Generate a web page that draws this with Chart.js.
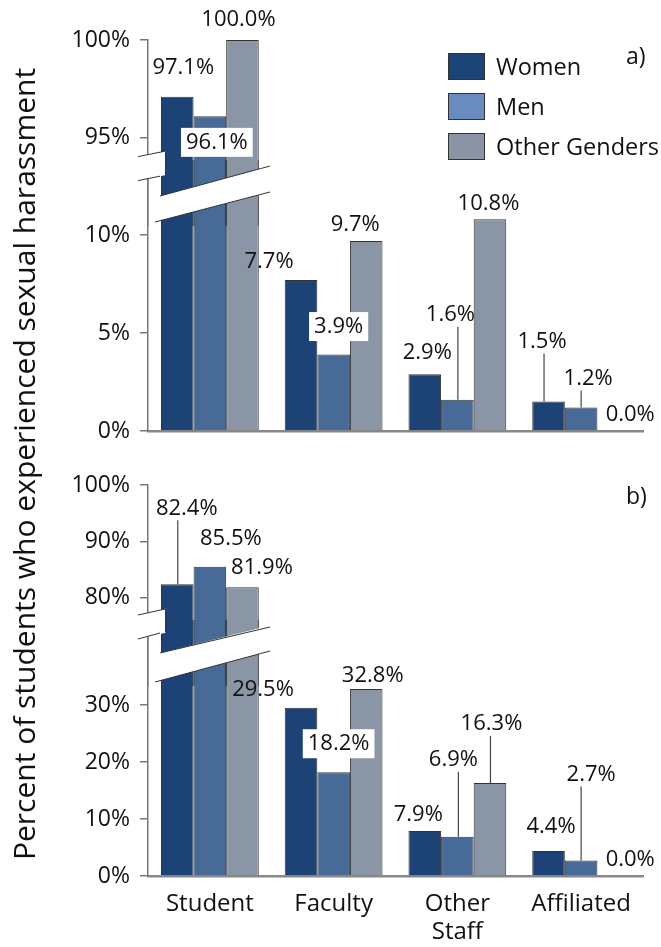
<!DOCTYPE html>
<html lang="en">
<head>
<meta charset="UTF-8">
<title>Sexual harassment by source</title>
<script src="https://cdn.jsdelivr.net/npm/chart.js"></script>
<style>
    body {
        margin: 0;
        background: #fff;
        font-family: 'Open Sans', sans-serif;
        color: #111;
    }
    .page {
        position: relative;
        width: 661px;
        height: 947px;
        overflow: hidden;
    }
    .page canvas {
        position: absolute;
        left: 0;
        top: 0;
    }
    .ytitle {
        position: absolute;
        left: -426px;
        top: 446px;
        width: 900px;
        height: 36px;
        line-height: 36px;
        text-align: center;
        font-size: 30px;
        white-space: nowrap;
        transform: rotate(-90deg);
    }
    .tag {
        position: absolute;
        font-size: 23px;
        line-height: 30px;
    }
    .legend {
        position: absolute;
        left: 448px;
        top: 46px;
        font-size: 23.5px;
    }
    .legend div {
        display: flex;
        align-items: center;
        height: 40px;
    }
    .legend .sw {
        width: 35px;
        height: 25px;
        border: 1px solid #333;
        margin-right: 11px;
    }
</style>
</head>
<body>
<div class="page">
    <canvas id="aUp" width="661" height="947"></canvas>
    <canvas id="aLow" width="661" height="947"></canvas>
    <canvas id="bUp" width="661" height="947"></canvas>
    <canvas id="bLow" width="661" height="947"></canvas>
    <div class="ytitle">Percent of students who experienced sexual harassment</div>
    <div class="tag" style="left:626px; top:40px;">a)</div>
    <div class="tag" style="left:626px; top:480px;">b)</div>
    <div class="legend" id="legend"></div>
</div>

<script>
    // data
    const categories = ['Student', 'Faculty', ['Other', 'Staff'], 'Affiliated'];
    const genders = ['Women', 'Men', 'Other Genders'];

    const womenA = [97.1, 7.7, 2.9, 1.5];
    const menA = [96.1, 3.9, 1.6, 1.2];
    const otherA = [100.0, 9.7, 10.8, 0.0];

    const womenB = [82.4, 29.5, 7.9, 4.4];
    const menB = [85.5, 18.2, 6.9, 2.7];
    const otherB = [81.9, 32.8, 16.3, 0.0];

    const upperTicksA = [95, 100];
    const lowerTicksA = [0, 5, 10];
    const upperTicksB = [80, 90, 100];
    const lowerTicksB = [0, 10, 20, 30];

    const barColors = ['#1c4276', '#486a96', '#8a95a5'];
    const legendColors = ['#1c4476', '#6a8bbd', '#8a94a4'];

    // label placement relative to bar top centre: [dx, dy, kind, lineDx]
    const spotsA = [
        [[6, -29], [-32, -18], [2.5, -21], [-6.5, -60, 'line', -4.5]],
        [[7, 26, 'box'], [5, -28, 'box'], [-7, -85, 'line', 0.5], [7, -29, 'line', 0]],
        [[-4, -20], [-11, -16], [-1.5, -16], [16.5, -16]]
    ];
    const spotsB = [
        [[9.5, -76, 'line', 0.5], [-38, -18], [-6.5, -16], [2.5, -24]],
        [[21, -28], [5, -28.5, 'box'], [-4, -77, 'line', 1], [10, -86, 'line', 0]],
        [[19.5, -19], [6.5, -13], [1.5, -59, 'line', 0.5], [16.5, -16]]
    ];

    // break geometry (axis notch and band across the student bars)
    const breakA = {
        notch: [[136, 157], [166, 151], [166, 175], [136, 181]],
        slashes: [[138, 156.6, 165, 151.2], [138, 180.6, 160, 176.2], [165.5, 151.2, 165.5, 175.2]],
        band: [[152, 198.2], [275, 164.6], [275, 190.7], [152, 222.8]],
        edges: [[160, 196, 270, 166], [155, 222, 270, 192]]
    };
    const breakB = {
        notch: [[136, 615.4], [166, 608.8], [166, 632.8], [136, 639.4]],
        slashes: [[138, 615, 165, 609], [138, 639, 160, 633], [165.5, 609, 165.5, 632.6]],
        band: [[152, 654.9], [275, 624.2], [275, 649.7], [152, 682.8]],
        edges: [[160, 653, 270, 627], [155, 682, 270, 651]]
    };

    const fontFamily = "'Open Sans', sans-serif";

    const valueLabels = {
        id: 'valueLabels',
        afterDatasetsDraw(chart, args, opts) {
            const ctx = chart.ctx;
            const y = chart.scales.y;
            ctx.save();
            ctx.font = '22px ' + fontFamily;
            ctx.textAlign = 'center';
            ctx.textBaseline = 'middle';
            chart.data.datasets.forEach((ds, di) => {
                chart.getDatasetMeta(di).data.forEach((bar, i) => {
                    const v = ds.data[i];
                    if (v < y.min || v > y.max) return;
                    const spot = opts.spots[di][i];
                    const tx = bar.x + spot[0];
                    const ty = bar.y + spot[1];
                    const text = v.toFixed(1) + '%';
                    if (spot[2] === 'box') {
                        const w = ctx.measureText(text).width + 10;
                        ctx.fillStyle = '#fff';
                        ctx.fillRect(tx - w / 2, ty - 14.5, w, 29);
                    }
                    if (spot[2] === 'line') {
                        ctx.strokeStyle = '#444';
                        ctx.lineWidth = 1.2;
                        ctx.beginPath();
                        ctx.moveTo(bar.x + spot[3], ty + 12);
                        ctx.lineTo(bar.x + spot[3], bar.y);
                        ctx.stroke();
                    }
                    ctx.fillStyle = '#111';
                    ctx.fillText(text, tx, ty);
                });
            });
            ctx.restore();
        }
    };

    const axisBreak = {
        id: 'axisBreak',
        afterDraw(chart, args, opts) {
            const b = opts.shape;
            if (!b) return;
            const ctx = chart.ctx;
            ctx.save();
            ctx.fillStyle = '#fff';
            [b.notch, b.band].forEach(poly => {
                ctx.beginPath();
                poly.forEach((p, k) => k ? ctx.lineTo(p[0], p[1]) : ctx.moveTo(p[0], p[1]));
                ctx.closePath();
                ctx.fill();
            });
            ctx.strokeStyle = '#333';
            ctx.lineWidth = 1;
            b.slashes.concat(b.edges).forEach(l => {
                ctx.beginPath();
                ctx.moveTo(l[0], l[1]);
                ctx.lineTo(l[2], l[3]);
                ctx.stroke();
            });
            ctx.restore();
        }
    };

    function makeChart(id, series, cfg) {
        return new Chart(document.getElementById(id), {
            type: 'bar',
            data: {
                labels: categories,
                datasets: series.map((d, k) => ({
                    label: genders[k],
                    data: d,
                    backgroundColor: barColors[k],
                    borderColor: '#333',
                    borderWidth: 1,
                    barPercentage: 1,
                    categoryPercentage: 0.79,
                    clip: 0
                }))
            },
            options: {
                responsive: false,
                animation: false,
                layout: { padding: { top: cfg.top, bottom: cfg.bottom, left: 0, right: 18 } },
                scales: {
                    x: {
                        display: cfg.xAxis !== 'none',
                        z: 1,
                        grid: { drawOnChartArea: false, drawTicks: false },
                        border: { color: '#888', width: 2.5 },
                        ticks: {
                            display: cfg.xAxis === 'labels',
                            color: '#111',
                            padding: 14,
                            font: { family: fontFamily, size: 24, lineHeight: 1.17 }
                        },
                        afterFit: s => { s.height = cfg.xHeight || 0; }
                    },
                    y: {
                        min: cfg.min,
                        max: cfg.max,
                        afterBuildTicks: s => { s.ticks = cfg.ticks.map(v => ({ value: v })); },
                        afterFit: s => { s.width = 148; },
                        grid: { drawOnChartArea: false, tickLength: 8, color: '#777', lineWidth: 1.5 },
                        border: { color: '#777', width: 1.5 },
                        ticks: {
                            color: '#111',
                            padding: 10,
                            font: { family: fontFamily, size: 23 },
                            callback: v => v + '%'
                        }
                    }
                },
                plugins: {
                    legend: { display: false },
                    tooltip: { enabled: false },
                    valueLabels: { spots: cfg.spots },
                    axisBreak: { shape: cfg.brk }
                }
            },
            plugins: [valueLabels, axisBreak]
        });
    }

    makeChart('aUp', [womenA, menA, otherA], {
        top: 40, bottom: 721, min: 90.5, max: 100, ticks: upperTicksA, xAxis: 'none', spots: spotsA
    });
    makeChart('aLow', [womenA, menA, otherA], {
        top: 160, bottom: 516, min: 0, max: 13.83, ticks: lowerTicksA, xAxis: 'line', spots: spotsA, brk: breakA
    });
    makeChart('bUp', [womenB, menB, otherB], {
        top: 485, bottom: 261, min: 64.4, max: 100, ticks: upperTicksB, xAxis: 'none', spots: spotsB
    });
    makeChart('bLow', [womenB, menB, otherB], {
        top: 620, bottom: 0, min: 0, max: 44.9, ticks: lowerTicksB, xAxis: 'labels', xHeight: 71, spots: spotsB, brk: breakB
    });

    const legend = document.getElementById('legend');
    genders.forEach((g, k) => {
        const row = document.createElement('div');
        row.innerHTML = '<span class="sw" style="background:' + legendColors[k] + '"></span>' + g;
        legend.appendChild(row);
    });
</script>
</body>
</html>
